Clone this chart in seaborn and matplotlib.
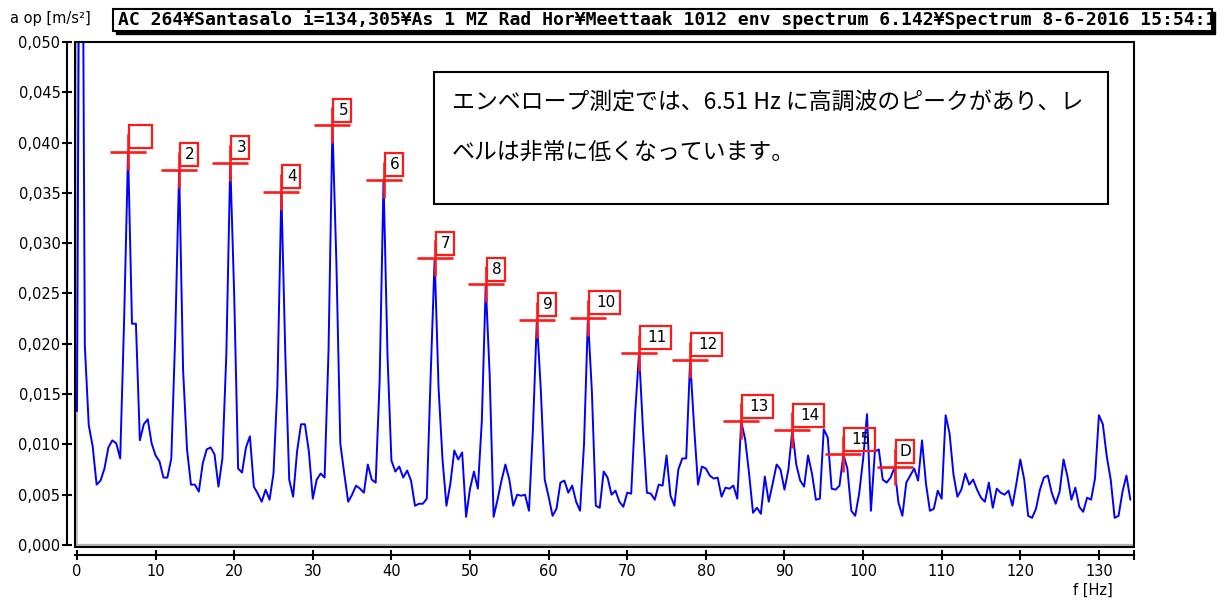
import matplotlib

matplotlib.use("Agg")

import matplotlib.patches as mpatches
import matplotlib.pyplot as plt
import matplotlib.ticker as mtick
import matplotlib.transforms as mtransforms
import numpy as np
import pandas as pd
import seaborn as sns


# envelope spectrum, one value per 0.5 Hz line starting at 0 Hz  [m/s²]
FREQ_STEP = 0.5
AMPLITUDE = [
    0.0133, 0.1000, 0.0198, 0.0119, 0.0098, 0.0060, 0.0064, 0.0076, 0.0097, 0.0104,
    0.0101, 0.0086, 0.0224, 0.0391, 0.0220, 0.0220, 0.0104, 0.0120, 0.0125, 0.0101,
    0.0089, 0.0083, 0.0067, 0.0067, 0.0086, 0.0208, 0.0373, 0.0174, 0.0095, 0.0060,
    0.0060, 0.0053, 0.0081, 0.0095, 0.0097, 0.0090, 0.0058, 0.0086, 0.0189, 0.0380,
    0.0249, 0.0076, 0.0072, 0.0097, 0.0108, 0.0058, 0.0051, 0.0043, 0.0055, 0.0045,
    0.0071, 0.0158, 0.0351, 0.0191, 0.0065, 0.0048, 0.0093, 0.0120, 0.0120, 0.0093,
    0.0046, 0.0065, 0.0071, 0.0067, 0.0193, 0.0417, 0.0281, 0.0101, 0.0071, 0.0043,
    0.0050, 0.0059, 0.0056, 0.0052, 0.0080, 0.0065, 0.0062, 0.0163, 0.0363, 0.0189,
    0.0084, 0.0073, 0.0078, 0.0067, 0.0074, 0.0064, 0.0039, 0.0041, 0.0041, 0.0046,
    0.0170, 0.0285, 0.0156, 0.0085, 0.0039, 0.0061, 0.0094, 0.0085, 0.0092, 0.0028,
    0.0056, 0.0073, 0.0056, 0.0123, 0.0259, 0.0169, 0.0028, 0.0045, 0.0064, 0.0080,
    0.0065, 0.0039, 0.0050, 0.0049, 0.0050, 0.0034, 0.0115, 0.0224, 0.0155, 0.0065,
    0.0048, 0.0029, 0.0036, 0.0062, 0.0064, 0.0052, 0.0059, 0.0043, 0.0034, 0.0100,
    0.0226, 0.0153, 0.0039, 0.0037, 0.0073, 0.0067, 0.0050, 0.0054, 0.0043, 0.0038,
    0.0052, 0.0051, 0.0130, 0.0191, 0.0115, 0.0052, 0.0051, 0.0045, 0.0060, 0.0059,
    0.0089, 0.0049, 0.0039, 0.0075, 0.0086, 0.0086, 0.0184, 0.0118, 0.0060, 0.0078,
    0.0076, 0.0069, 0.0066, 0.0067, 0.0048, 0.0057, 0.0056, 0.0059, 0.0046, 0.0123,
    0.0105, 0.0071, 0.0032, 0.0037, 0.0031, 0.0068, 0.0043, 0.0061, 0.0080, 0.0075,
    0.0055, 0.0075, 0.0114, 0.0080, 0.0064, 0.0058, 0.0089, 0.0071, 0.0045, 0.0046,
    0.0115, 0.0107, 0.0056, 0.0055, 0.0059, 0.0090, 0.0076, 0.0034, 0.0029, 0.0051,
    0.0085, 0.0130, 0.0034, 0.0093, 0.0095, 0.0065, 0.0062, 0.0067, 0.0077, 0.0042,
    0.0029, 0.0062, 0.0069, 0.0076, 0.0064, 0.0104, 0.0061, 0.0034, 0.0036, 0.0054,
    0.0046, 0.0129, 0.0111, 0.0070, 0.0048, 0.0055, 0.0071, 0.0060, 0.0065, 0.0055,
    0.0047, 0.0043, 0.0062, 0.0037, 0.0056, 0.0052, 0.0050, 0.0054, 0.0039, 0.0061,
    0.0085, 0.0065, 0.0029, 0.0027, 0.0036, 0.0055, 0.0067, 0.0069, 0.0052, 0.0041,
    0.0053, 0.0085, 0.0068, 0.0045, 0.0057, 0.0038, 0.0033, 0.0047, 0.0045, 0.0066,
    0.0129, 0.0120, 0.0088, 0.0065, 0.0027, 0.0029, 0.0053, 0.0069, 0.0045,
]

# harmonic cursors of the 6.51 Hz defect frequency
PEAK_LABELS = ["", "2", "3", "4", "5", "6", "7", "8", "9", "10", "11", "12", "13", "14", "15", "D"]
PEAK_FREQ = [6.5, 13.0, 19.5, 26.0, 32.5, 39.0, 45.5, 52.0, 58.5, 65.0, 71.5, 78.0, 84.5, 91.0, 97.5, 104.0]
PEAK_AMP = [0.0391, 0.0373, 0.0380, 0.0351, 0.0417, 0.0363, 0.0285, 0.0259,
            0.0224, 0.0226, 0.0191, 0.0184, 0.0123, 0.0114, 0.0090, 0.0078]

HEADER = "AC 264¥Santasalo i=134,305¥As 1 MZ Rad Hor¥Meettaak 1012 env spectrum 6.142¥Spectrum 8-6-2016 15:54:1"
NOTE_LINES = ["エンベロープ測定では、6.51 Hz に高調波のピークがあり、レ", "ベルは非常に低くなっています。"]

W, H = 1225, 602
RED = "#ff1a1a"


def fx(px: float) -> float:
    return px / W


def fy(py: float) -> float:
    return 1 - py / H


sns.set_theme(style="white")
plt.rcParams["font.family"] = ["DejaVu Sans", "Noto Sans CJK JP"]

freq = np.arange(len(AMPLITUDE)) * FREQ_STEP
df = pd.DataFrame({"freq": freq, "amp": AMPLITUDE})

fig = plt.figure(figsize=(W / 100, H / 100), dpi=100)
fig.patch.set_facecolor("white")
ax = fig.add_axes([fx(75), fy(547), fx(1133.5) - fx(75), fy(42) - fy(547)])

ax.axhline(0, color="#b4b4b4", lw=1.6, zorder=1)
ax.axvline(0, color="#b4b4b4", lw=1.2, zorder=1)
sns.lineplot(data=df, x="freq", y="amp", ax=ax, color="#0000ff", linewidth=1.4,
             estimator=None, legend=False, zorder=2)
ax.set_xlim(-0.25, 134.4)
ax.set_ylim(-0.0002, 0.050)
ax.set_xlabel("")
ax.set_ylabel("")

# frame + detached axis lines
ax.add_patch(mpatches.Rectangle((0, 0), 1, 1, transform=ax.transAxes, fill=False,
                                ec="black", lw=1.5, clip_on=False, zorder=6))
for side in ["top", "right"]:
    ax.spines[side].set_visible(False)
for side in ["left", "bottom"]:
    ax.spines[side].set_position(("outward", 6))
    ax.spines[side].set_color("black")
    ax.spines[side].set_linewidth(1.5)
ax.spines["left"].set_bounds(0, 0.050)

ax.xaxis.set_major_locator(mtick.MultipleLocator(10))
ax.xaxis.set_minor_locator(mtick.FixedLocator([134.4]))
ax.yaxis.set_major_locator(mtick.MultipleLocator(0.005))
ax.yaxis.set_major_formatter(mtick.FuncFormatter(lambda v, p: f"{v:.3f}".replace(".", ",")))
ax.tick_params(axis="both", which="both", direction="inout", length=7, width=1.5,
               colors="black", labelsize=10.5, left=True, bottom=True)
ax.tick_params(axis="y", pad=1)
ax.tick_params(axis="x", pad=3)
ax.grid(False)

# cursors
ax.plot(PEAK_FREQ, PEAK_AMP, ls="none", marker="+", ms=26, mew=1.9, color=RED, zorder=4)
for f, a, lab in zip(PEAK_FREQ, PEAK_AMP, PEAK_LABELS):
    trans = fig.dpi_scale_trans + mtransforms.ScaledTranslation(f, a, ax.transData)
    w = 23 if lab == "" else (31 if len(lab) > 1 else 18)
    ax.add_patch(mpatches.Rectangle((1 / 100, 3.5 / 100), w / 100, 23 / 100, transform=trans,
                                    fill=False, ec=RED, lw=1.6, clip_on=False, zorder=5))
    ax.text((2 + w / 2) / 100, 15 / 100, lab, transform=trans, ha="center", va="center",
            fontsize=11, color="black", clip_on=False, zorder=5)

# header bar
fig.patches.append(mpatches.Rectangle((fx(116), fy(34)), fx(1215) - fx(116), fy(12) - fy(34),
                                      transform=fig.transFigure, fc="black", ec="black", lw=1))
box = mpatches.Rectangle((fx(113), fy(31)), fx(1212) - fx(113), fy(9) - fy(31),
                         transform=fig.transFigure, fc="white", ec="black", lw=1.5)
fig.patches.append(box)
head = fig.text(fx(118), fy(20), HEADER, family="DejaVu Sans Mono", weight="bold",
                fontsize=13, ha="left", va="center", color="black")
head.set_clip_path(box)

fig.text(fx(10), fy(18), "a op [m/s²]", fontsize=10.5, ha="left", va="center", color="black")
fig.text(fx(1113), fy(590), "f [Hz]", fontsize=10.5, ha="right", va="center", color="black")

# comment box
fig.patches.append(mpatches.Rectangle((fx(434), fy(204)), fx(1108) - fx(434), fy(72) - fy(204),
                                      transform=fig.transFigure, fc="white", ec="black", lw=1.5,
                                      zorder=7))
for py, line in zip([103, 152], NOTE_LINES):
    fig.text(fx(452), fy(py), line, family=["Noto Sans CJK JP", "DejaVu Sans"],
             fontsize=16.5, ha="left", va="center", color="black", zorder=8)

fig.savefig("out.png", dpi=100, facecolor="white")
plt.close(fig)
